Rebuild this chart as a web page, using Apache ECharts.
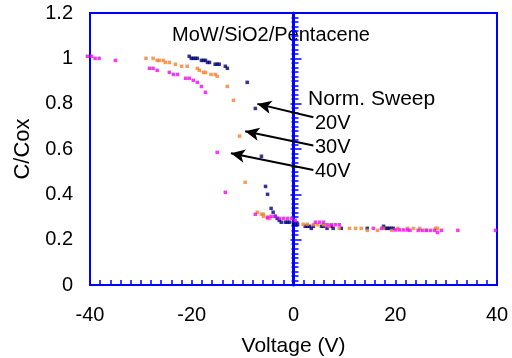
<!DOCTYPE html>
<html>
<head>
<meta charset="utf-8">
<script src="https://cdn.jsdelivr.net/npm/echarts@6/dist/echarts.min.js"></script>
<style>html,body{margin:0;padding:0;background:#fff}#c{width:512px;height:358px}</style>
</head>
<body>
<div id="c"></div>
<script>
// ---- data ----
const xTicks = [-40, -20, 0, 20, 40];
const yTicks = [0, 0.2, 0.4, 0.6, 0.8, 1, 1.2];
const seriesNames = ['20V', '30V', '40V'];
const navyV = [-20.5,-20.1,-19.7,-19.3,-18.9,-18.1,-17.7,-17.3,-16.9,-16.5,-15.4,-15.0,-14.6,-13.4,-13.0,-9.1,-7.5,-6.3,-5.5,-5.1,-4.4,-4.0,-3.6,-3.2,-2.8,-2.4,-1.6,-1.2,-0.8,0,0.4,0.8,2.3,2.7,3.1,3.5,3.9,5.5,5.9,6.6,7.4,7.8,9.4,14.5,17.7,18.0,18.4,18.8,19.2,19.6];
const navyC = [1.009,1.0,1.0,1.0,1.0,0.991,0.991,0.991,0.982,0.982,0.974,0.974,0.974,0.965,0.956,0.894,0.779,0.568,0.435,0.4,0.338,0.321,0.303,0.294,0.285,0.277,0.277,0.277,0.277,0.268,0.268,0.268,0.259,0.259,0.259,0.25,0.259,0.259,0.259,0.25,0.259,0.25,0.25,0.25,0.259,0.25,0.25,0.25,0.25,0.25];
const orangeV = [-29.0,-27.6,-26.8,-26.4,-25.6,-25.2,-24.4,-23.2,-22.0,-20.9,-18.9,-18.5,-17.7,-17.3,-16.2,-15.4,-15.0,-13.0,-11.8,-10.6,-9.5,-7.1,-6.3,-5.9,-5.9,-5.1,-4.7,1.9,2.7,3.9,4.7,5.9,7.0,9.0,11.0,12.2,13.3,14.5,16.5,17.7,19.3,20.5,22.4,23.6,24.8,26.1,27.9,28.3];
const orangeC = [1.0,1.0,0.991,0.991,0.991,0.982,0.982,0.974,0.965,0.965,0.956,0.947,0.938,0.938,0.929,0.929,0.921,0.876,0.815,0.657,0.453,0.321,0.312,0.312,0.303,0.294,0.294,0.268,0.268,0.266,0.266,0.266,0.259,0.25,0.25,0.25,0.25,0.241,0.241,0.25,0.241,0.25,0.25,0.25,0.25,0.241,0.25,0.25];
const magV = [-40.5,-39.7,-39.0,-38.2,-35.0,-28.3,-27.6,-26.8,-24.4,-23.6,-22.8,-21.2,-20.5,-19.7,-18.9,-18.1,-17.3,-15.0,-13.4,-7.5,-5.1,-4.4,-3.6,-2.8,-2.0,-1.2,-0.4,0.35,4.3,5.1,5.9,6.6,7.4,8.2,9.0,15.7,17.3,20.0,20.8,21.6,22.4,22.9,24.5,25.3,26.1,26.9,27.7,28.3,29.1,32.3,39.7];
const magC = [1.009,1.009,1.0,1.0,0.991,0.956,0.956,0.947,0.938,0.929,0.929,0.912,0.912,0.903,0.894,0.876,0.85,0.585,0.409,0.312,0.299,0.303,0.303,0.294,0.294,0.294,0.294,0.285,0.277,0.277,0.277,0.266,0.266,0.266,0.266,0.25,0.25,0.243,0.243,0.243,0.243,0.241,0.241,0.241,0.241,0.241,0.241,0.232,0.241,0.241,0.241];
// arrow annotations: [tailV, tailC, headV, headC]
const arrows = [[3.9,0.74,-7.1,0.799],[3.9,0.615,-9.5,0.678],[3.9,0.507,-12.3,0.581]];

// ---- chart ----
const FONT = 'Liberation Sans';
const BLUE = '#0000ff';
const zip = (a, b) => a.map((v, i) => [v, b[i]]);
const chart = echarts.init(document.getElementById('c'), null, {renderer: 'canvas'});
const tickAxisBase = {
  type: 'value', min: yTicks[0], max: yTicks[yTicks.length - 1], interval: 0.2,
  position: 'left', offset: -203.5,
  axisLabel: {show: false}, splitLine: {show: false}, name: ''
};
chart.setOption({
  animation: false,
  backgroundColor: '#fff',
  grid: {left: 90, right: 15, top: 13, bottom: 73, containLabel: false, outerBoundsMode: 'none',
         show: true, borderColor: BLUE, borderWidth: 2, backgroundColor: '#fff'},
  xAxis: {
    type: 'value', min: xTicks[0], max: xTicks[xTicks.length - 1], interval: 20,
    name: 'Voltage (V)', nameLocation: 'middle', nameGap: 51,
    nameTextStyle: {fontFamily: FONT, fontSize: 21, color: '#000'},
    axisLine: {show: true, onZero: false, lineStyle: {color: BLUE, width: 2}},
    axisTick: {show: true, inside: true, length: 5, lineStyle: {color: BLUE, width: 1.5}},
    minorTick: {show: true, splitNumber: 10, length: 5, lineStyle: {color: BLUE, width: 1.5}},
    splitLine: {show: false},
    axisLabel: {fontFamily: FONT, fontSize: 20, color: '#000', margin: 20}
  },
  yAxis: [
    {
      type: 'value', min: yTicks[0], max: yTicks[yTicks.length - 1], interval: 0.2,
      name: 'C/Cox', nameLocation: 'middle', nameGap: 55,
      nameTextStyle: {fontFamily: FONT, fontSize: 22, color: '#000'},
      axisLine: {show: false}, axisTick: {show: false}, splitLine: {show: false},
      axisLabel: {fontFamily: FONT, fontSize: 20, color: '#000', margin: 17}
    },
    Object.assign({}, tickAxisBase, {
      axisLine: {show: true, lineStyle: {color: BLUE, width: 3}},
      axisTick: {show: true, inside: true, length: 8, lineStyle: {color: BLUE, width: 1.5}},
      minorTick: {show: true, splitNumber: 10, length: 5, lineStyle: {color: BLUE, width: 1.5}}
    }),
    Object.assign({}, tickAxisBase, {
      axisLine: {show: false},
      axisTick: {show: true, inside: false, length: 3, lineStyle: {color: BLUE, width: 1.5}},
      minorTick: {show: true, splitNumber: 10, length: 2, lineStyle: {color: BLUE, width: 1.5}}
    })
  ],
  series: [
    {name: seriesNames[0], type: 'scatter', data: zip(navyV, navyC), symbol: 'rect', symbolSize: 3.5, clip: false, itemStyle: {color: '#000080'}},
    {name: seriesNames[1], type: 'scatter', data: zip(orangeV, orangeC), symbol: 'rect', symbolSize: 3.5, clip: false, itemStyle: {color: '#ff7f27'}},
    {name: seriesNames[2], type: 'scatter', data: zip(magV, magC), symbol: 'rect', symbolSize: 3.5, clip: false, itemStyle: {color: '#ff00ff'}},
    {
      type: 'scatter', data: [], silent: true,
      markLine: {
        silent: true, animation: false,
        symbol: ['none', 'arrow'], symbolSize: [10, 14],
        lineStyle: {color: '#000', width: 2, type: 'solid'},
        label: {show: false},
        data: arrows.map(a => [{coord: [a[0], a[1]]}, {coord: [a[2], a[3]]}])
      }
    }
  ],
  graphic: [
    {type: 'text', left: 172, top: 25, style: {text: 'MoW/SiO2/Pentacene', font: '20px "Liberation Sans"', fill: '#000'}},
    {type: 'text', left: 308, top: 89, style: {text: 'Norm. Sweep', font: '21px "Liberation Sans"', fill: '#000'}},
    {type: 'text', left: 315, top: 113, style: {text: seriesNames[0], font: '20px "Liberation Sans"', fill: '#000'}},
    {type: 'text', left: 315, top: 137, style: {text: seriesNames[1], font: '20px "Liberation Sans"', fill: '#000'}},
    {type: 'text', left: 315, top: 161, style: {text: seriesNames[2], font: '20px "Liberation Sans"', fill: '#000'}}
  ]
});
</script>
</body>
</html>
